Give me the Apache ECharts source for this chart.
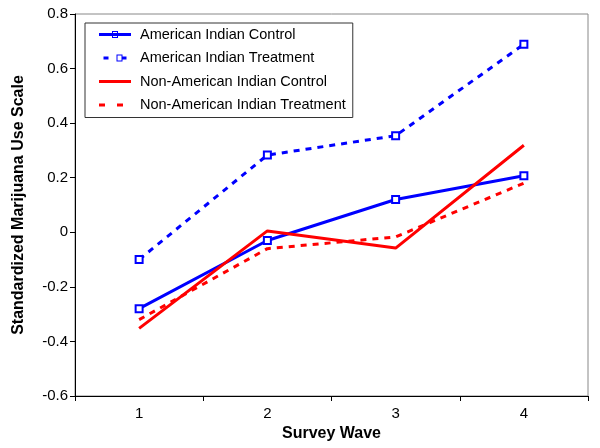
<!DOCTYPE html>
<html><head><meta charset="utf-8">
<script src="https://cdn.jsdelivr.net/npm/echarts@6/dist/echarts.min.js"></script>
<style>html,body{margin:0;padding:0;background:#fff}#c{width:600px;height:448px}</style>
</head><body><div id="c"></div>
<script>
const categories = ['1', '2', '3', '4'];
const aiControl = [-0.28, -0.03, 0.12, 0.207];
const aiTreatment = [-0.10, 0.283, 0.354, 0.689];
const naiControl = [-0.352, 0.005, -0.058, 0.319];
const naiTreatment = [-0.32, -0.06, -0.017, 0.18];
const yTicks = { min: -0.6, max: 0.8, interval: 0.2 };
const seriesNames = ['American Indian Control', 'American Indian Treatment', 'Non-American Indian Control', 'Non-American Indian Treatment'];

// legend icons (32 x 7 box): line segments plus hollow square
const ring = 'M13 0 L19 0 L19 7 L13 7 Z M14 6 L18 6 L18 1 L14 1 Z';
const icons = [
  'path://M0 2 L32 2 L32 5 L0 5 Z ' + ring,
  'path://M0 2 L5 2 L5 5 L0 5 Z M19 2 L23 2 L23 5 L19 5 Z ' + ring,
  'path://M0 0 L32 0 L32 3 L0 3 Z',
  'path://M0 0 L6 0 L6 3 L0 3 Z M18 0 L24 0 L24 3 L18 3 Z M31.9 0 L32 0 L32 0.01 Z'
];

const chart = echarts.init(document.getElementById('c'));
const font = 'Liberation Sans, Arial, sans-serif';
function line(name, data, color, dashed, marker) {
  return {
    name, type: 'line', data,
    symbol: marker ? 'emptyRect' : 'none',
    symbolSize: 7,
    showSymbol: marker,
    itemStyle: { color: color, borderWidth: 1 },
    lineStyle: { color: color, width: 3, type: dashed ? [6, 6] : 'solid' },
    emphasis: { disabled: true },
    animation: false
  };
}
chart.setOption({
  animation: false,
  grid: { left: 75, top: 14, right: 12, bottom: 52, show: true, borderColor: '#888', borderWidth: 1, backgroundColor: 'transparent' },
  legend: {
    orient: 'vertical', left: 85, top: 23,
    backgroundColor: '#fff', borderColor: '#333', borderWidth: 1,
    padding: [4, 7, 5, 14],
    itemWidth: 32, itemHeight: 7, itemGap: 8.5,
    symbolKeepAspect: true,
    textStyle: { fontFamily: font, fontSize: 14.5, color: '#000', padding: [0, 0, 0, 4] },
    data: seriesNames.map((n, i) => ({ name: n, icon: icons[i] }))
  },
  xAxis: {
    type: 'category', data: categories, boundaryGap: true,
    name: 'Survey Wave', nameLocation: 'middle', nameGap: 30,
    nameTextStyle: { fontFamily: font, fontSize: 16, fontWeight: 'bold', color: '#000' },
    axisLine: { onZero: false, lineStyle: { color: '#000', width: 1 } },
    axisTick: { show: true, length: 5, lineStyle: { color: '#000' } },
    axisLabel: { fontFamily: font, fontSize: 15, color: '#000', margin: 10 },
    splitLine: { show: false }
  },
  yAxis: {
    type: 'value', min: yTicks.min, max: yTicks.max, interval: yTicks.interval,
    name: 'Standardized Marijuana Use Scale', nameLocation: 'middle', nameGap: 48,
    nameTextStyle: { fontFamily: font, fontSize: 16, fontWeight: 'bold', color: '#000' },
    axisLine: { show: true, lineStyle: { color: '#000', width: 1 } },
    axisTick: { show: true, length: 5, lineStyle: { color: '#000' } },
    axisLabel: { fontFamily: font, fontSize: 15, color: '#000', margin: 7,
      formatter: v => (Math.abs(v) < 1e-9 ? '0' : String(Math.round(v * 10) / 10)) },
    splitLine: { show: false }
  },
  series: [
    line(seriesNames[0], aiControl, '#0000ff', false, true),
    line(seriesNames[1], aiTreatment, '#0000ff', true, true),
    line(seriesNames[2], naiControl, '#ff0000', false, false),
    line(seriesNames[3], naiTreatment, '#ff0000', true, false)
  ]
});
</script></body></html>
